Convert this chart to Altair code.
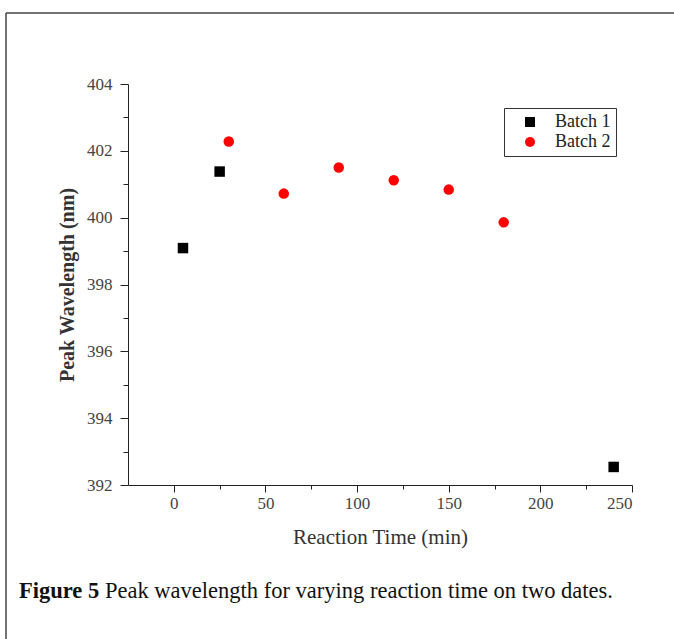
import altair as alt
import pandas as pd

# Data
batch1_time = [5, 25, 240]
batch1_wl = [399.09, 401.38, 392.54]
batch2_time = [30, 60, 90, 120, 150, 180]
batch2_wl = [402.28, 400.72, 401.50, 401.12, 400.84, 399.86]

x_ticks = [0, 25, 50, 75, 100, 125, 150, 175, 200, 225, 250]
y_ticks = list(range(392, 405))

df = pd.DataFrame({
    "time": batch1_time + batch2_time,
    "wl": batch1_wl + batch2_wl,
    "batch": ["Batch 1"] * len(batch1_time) + ["Batch 2"] * len(batch2_time),
})

FONT = "Liberation Serif"
PL, PT = 128, 84  # plot-area origin in page pixels

legend = alt.Legend(
    orient="none", legendX=376, legendY=24, title=None,
    strokeColor="#333333", fillColor="white", padding=5,
    labelFont=FONT, labelFontSize=18, labelColor="#222222",
    symbolSize=100, symbolStrokeWidth=0, rowPadding=2,
    symbolOffset=12, labelOffset=16,
)

points = alt.Chart(df).mark_point(filled=True, opacity=1, size=110).encode(
    x=alt.X("time:Q", scale=alt.Scale(domain=[-25, 250], nice=False, zero=False),
            axis=alt.Axis(
                values=x_ticks, title="Reaction Time (min)",
                labelExpr="datum.value % 50 == 0 ? datum.label : ''",
                tickSize={"condition": {"test": "datum.value % 50 == 0", "value": 7}, "value": 4},
                grid=False, domainColor="#222", tickColor="#222",
                labelFont=FONT, labelFontSize=17, labelColor="#444", labelPadding=3,
                titleFont=FONT, titleFontSize=21, titleFontWeight="normal",
                titleColor="#333", titlePadding=15,
            )),
    y=alt.Y("wl:Q", scale=alt.Scale(domain=[392, 404], nice=False, zero=False),
            axis=alt.Axis(
                values=y_ticks, title="Peak Wavelength (nm)",
                labelExpr="datum.value % 2 == 0 ? datum.label : ''",
                tickSize={"condition": {"test": "datum.value % 2 == 0", "value": 8}, "value": 5},
                grid=False, domainColor="#222", tickColor="#222",
                labelFont=FONT, labelFontSize=17, labelColor="#444", labelPadding=8,
                titleFont=FONT, titleFontSize=20, titleFontWeight="bold",
                titleColor="#333", titlePadding=9,
            )),
    color=alt.Color("batch:N", scale=alt.Scale(domain=["Batch 1", "Batch 2"], range=["#000000", "#ff0000"]), legend=legend),
    shape=alt.Shape("batch:N", scale=alt.Scale(domain=["Batch 1", "Batch 2"], range=["square", "circle"]), legend=legend),
)

one = alt.Data(values=[{}])

frame_top = alt.Chart(one).mark_rule(color="#444", strokeWidth=1.5).encode(
    x=alt.value(6 - PL), x2=alt.value(700 - PL), y=alt.value(13 - PT))
frame_left = alt.Chart(one).mark_rule(color="#444", strokeWidth=1.5).encode(
    x=alt.value(6 - PL), y=alt.value(13 - PT), y2=alt.value(700 - PT))

cap_bold = alt.Chart(one).mark_text(font=FONT, fontSize=22.5, fontWeight="bold", align="left",
                                    baseline="middle", color="#111").encode(
    x=alt.value(19 - PL), y=alt.value(591 - PT), text=alt.value("Figure 5"))
cap_rest = alt.Chart(one).mark_text(font=FONT, fontSize=22.5, align="left",
                                    baseline="middle", color="#111").encode(
    x=alt.value(105 - PL), y=alt.value(591 - PT),
    text=alt.value("Peak wavelength for varying reaction time on two dates."))

chart = alt.layer(frame_top, frame_left, points, cap_bold, cap_rest).properties(
    width=504, height=401,
    padding={"left": PL, "top": PT, "right": 674 - PL - 504, "bottom": 639 - PT - 401},
    autosize=alt.AutoSizeParams(type="none"),
    background="white",
).configure_view(stroke=None)

chart.save("out.html", embed_options={"renderer": "svg", "actions": False})
